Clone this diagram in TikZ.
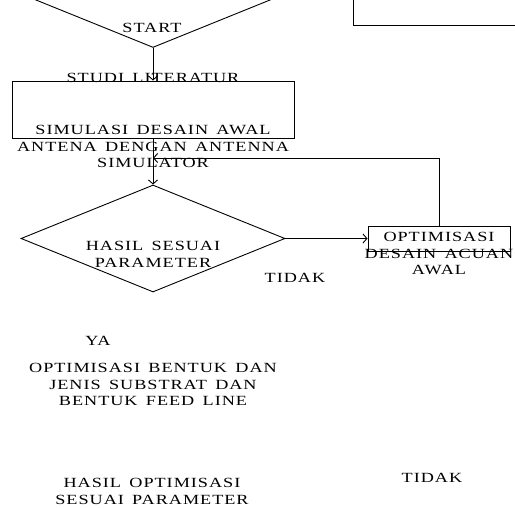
\documentclass[tikz,border=0pt]{standalone}
\usepackage{fontspec}
\setmainfont{Liberation Serif}[FakeStretch=1.3,LetterSpace=7,WordSpace=1.5]
\usetikzlibrary{arrows.meta,positioning,shapes.geometric}

\begin{document}
\begin{tikzpicture}[x=1pt,y=-1pt,line width=.9pt,>={Straight Barb[length=4pt,width=9pt]}]
  \tikzstyle{txt} = [inner sep=0,align=center,anchor=north,font=\fontsize{14}{16.5}\selectfont];
  \tikzstyle{dec} = [diamond,draw,minimum width=264pt,minimum height=107pt,inner sep=0];
  \tikzstyle{box} = [rectangle,draw,inner sep=0];
  \useasboundingbox (0,0) rectangle (515,507);
  \clip (0,0) rectangle (515,507);
  % shapes
  \node[dec] (start) at (153,-6) {};
  \node[box,minimum width=180pt,minimum height=60pt] (top) at (443,-5) {};
  \node[box,minimum width=282pt,minimum height=57pt] (sim) at (153,109.5) {};
  \node[dec] (cek) at (153,238.5) {};
  \node[box,minimum width=142pt,minimum height=25pt] (opt) at (439,238.5) {};
  \coordinate (fb) at (153,158);
  % texts
  \node[txt] (tstart) at (152,23) {START};
  \node[txt] (tlit) at (153,73) {STUDI LITERATUR};
  \node[txt] (tsim) at (153,125) {SIMULASI DESAIN AWAL\\ANTENA DENGAN ANTENNA\\SIMULATOR};
  \node[txt] (tcek) at (153,241) {HASIL SESUAI\\PARAMETER};
  \node[txt] (topt) at (439,232) {OPTIMISASI\\DESAIN ACUAN\\AWAL};
  \node[txt] (tidak) at (295,273) {TIDAK};
  \node[txt] (ya) at (98,336) {YA};
  \node[txt] (tbentuk) at (153,363) {OPTIMISASI BENTUK DAN\\JENIS SUBSTRAT DAN\\BENTUK FEED LINE};
  \node[txt] (thasil) at (152,478) {HASIL OPTIMISASI\\SESUAI PARAMETER};
  \node[txt] (tidakb) at (432,473) {TIDAK};
  % connectors
  \draw[->] (start.south) -- (sim.north);
  \draw[->] (sim.south) -- (cek.north);
  \draw[->] (cek.east) -- (opt.west);
  \draw[->] (opt.north) |- (fb);
\end{tikzpicture}
\end{document}
